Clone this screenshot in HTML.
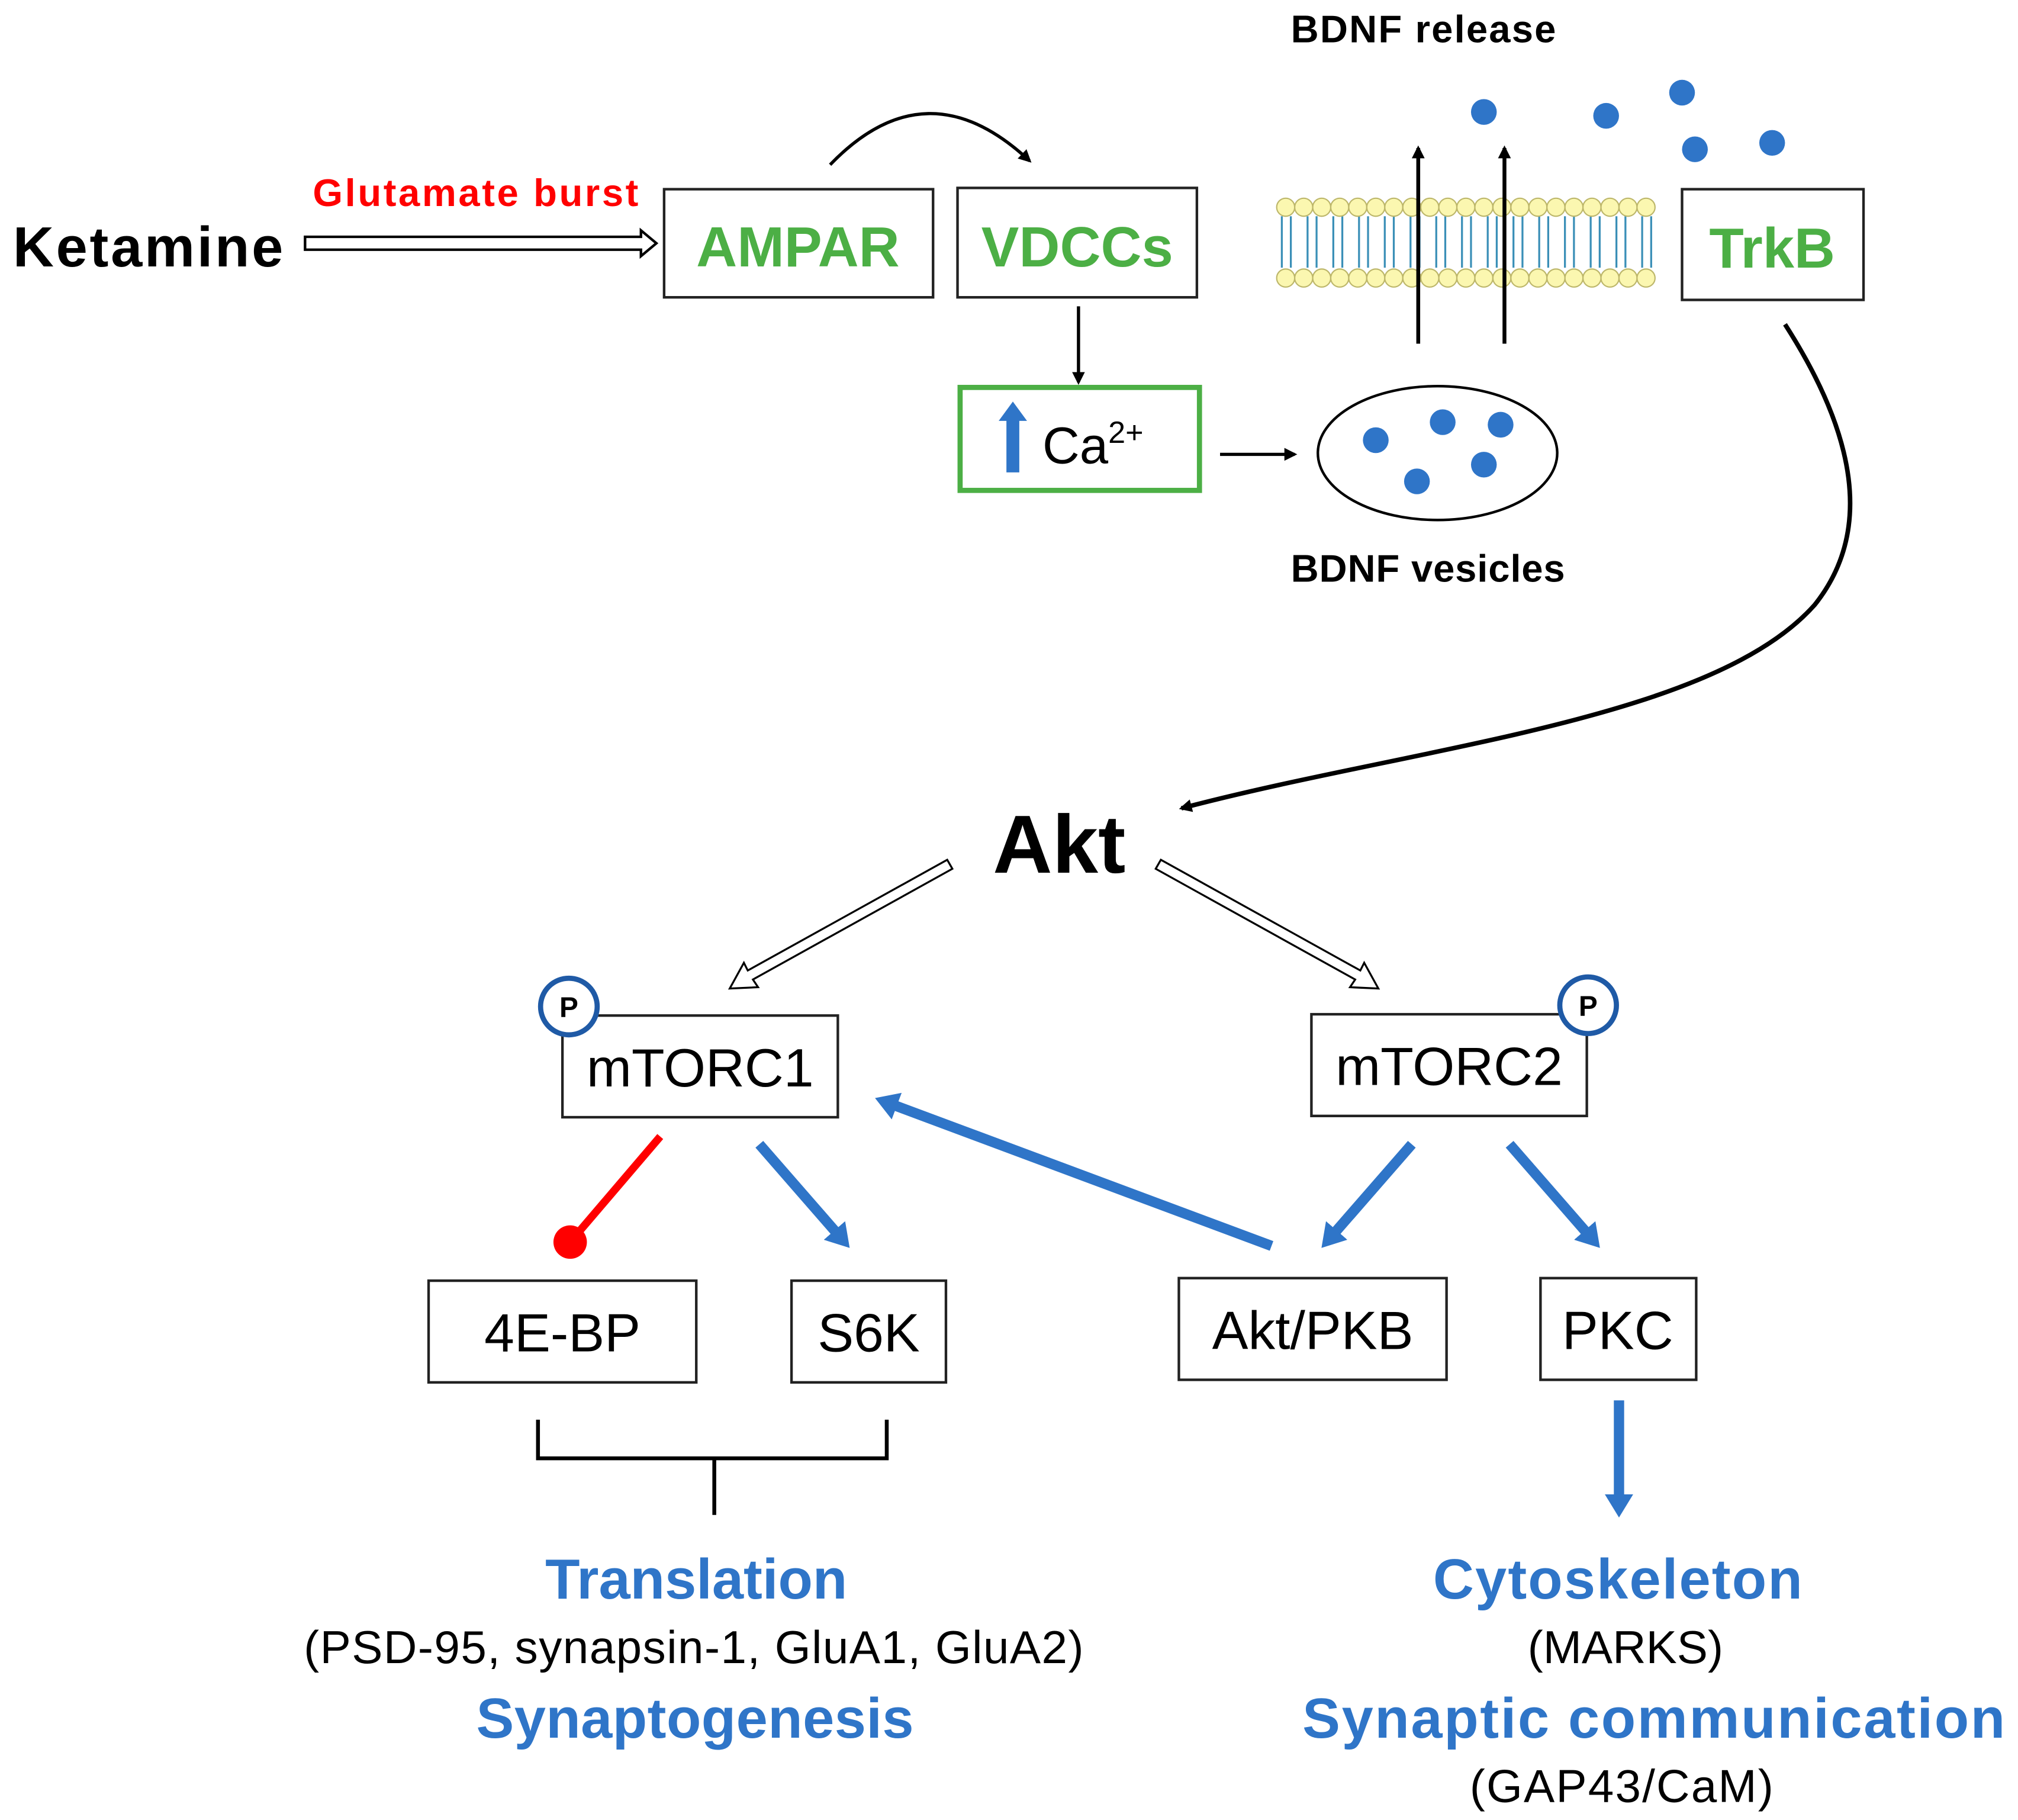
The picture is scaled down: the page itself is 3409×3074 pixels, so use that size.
<!DOCTYPE html>
<html><head><meta charset="utf-8"><style>html,body{margin:0;padding:0;background:#fff}svg{display:block}text{font-family:"Liberation Sans",sans-serif}</style></head><body>
<svg width="3409" height="3074" viewBox="0 0 1568 1414" xmlns="http://www.w3.org/2000/svg">
<defs>
<marker id="ak" markerWidth="10" markerHeight="10" refX="8" refY="5" orient="auto" markerUnits="userSpaceOnUse"><path d="M0,0 L10,5 L0,10 z" fill="#000"/></marker>
<marker id="ab" markerWidth="18" markerHeight="22" refX="4" refY="11" orient="auto" markerUnits="userSpaceOnUse"><path d="M0,0 L18,11 L0,22 z" fill="#2f75c8"/></marker>
</defs>
<text x="10" y="207" font-size="44" font-weight="bold" textLength="210">Ketamine</text>
<text x="243" y="160" font-size="30" font-weight="bold" fill="#f00" textLength="253">Glutamate burst</text>
<path d="M237,184 L498,184 L498,179 L510,189 L498,199 L498,194 L237,194 z" fill="#fff" stroke="#000" stroke-width="2"/>
<g fill="#fff" stroke="#222" stroke-width="2">
<rect x="516" y="147" width="209" height="84"/><rect x="744" y="146" width="186" height="85"/>
<rect x="1307" y="147" width="141" height="86"/>
<rect x="437" y="789" width="214" height="79"/><rect x="1019" y="788" width="214" height="79"/>
<rect x="333" y="995" width="208" height="79"/><rect x="615" y="995" width="120" height="79"/>
<rect x="916" y="993" width="208" height="79"/><rect x="1197" y="993" width="121" height="79"/>
</g>
<g font-size="44" font-weight="bold" fill="#4caf45" text-anchor="middle">
<text x="620" y="207">AMPAR</text><text x="837" y="207">VDCCs</text><text x="1377" y="208">TrkB</text></g>
<path d="M645,128 Q720,50 800,125" fill="none" stroke="#000" stroke-width="2.5" marker-end="url(#ak)"/>
<line x1="838" y1="238" x2="838" y2="297" stroke="#000" stroke-width="2.5" marker-end="url(#ak)"/>
<rect x="746" y="301" width="186" height="80" fill="#fff" stroke="#4caf45" stroke-width="4"/>
<path d="M782,367 L782,327 L776,327 L787,312 L798,327 L792,327 L792,367 z" fill="#2f75c8"/>
<text x="810" y="360" font-size="40">Ca<tspan font-size="24" dy="-16">2+</tspan></text>
<line x1="948" y1="353" x2="1006" y2="353" stroke="#000" stroke-width="2.5" marker-end="url(#ak)"/>
<ellipse cx="1117" cy="352" rx="93" ry="52" fill="#fff" stroke="#000" stroke-width="2"/>
<g fill="#2f75c8"><circle cx="1069" cy="342" r="10"/><circle cx="1121" cy="328" r="10"/><circle cx="1166" cy="330" r="10"/><circle cx="1101" cy="374" r="10"/><circle cx="1153" cy="361" r="10"/>
<circle cx="1153" cy="87" r="10"/><circle cx="1248" cy="90" r="10"/><circle cx="1307" cy="72" r="10"/><circle cx="1317" cy="116" r="10"/><circle cx="1377" cy="111" r="10"/></g>
<text x="1003" y="452" font-size="30" font-weight="bold" textLength="213">BDNF vesicles</text>
<text x="1003" y="33" font-size="30" font-weight="bold" textLength="206">BDNF release</text>
<g>
<g stroke="#3a8fb7" stroke-width="1.5" fill="none">
<path d="M996,168 v40 M1003,168 v40 M1016,168 v40 M1023,168 v40 M1036,168 v40 M1043,168 v40 M1056,168 v40 M1063,168 v40 M1076,168 v40 M1083,168 v40 M1096,168 v40 M1103,168 v40 M1116,168 v40 M1123,168 v40 M1136,168 v40 M1143,168 v40 M1156,168 v40 M1163,168 v40 M1176,168 v40 M1183,168 v40 M1196,168 v40 M1203,168 v40 M1216,168 v40 M1223,168 v40 M1236,168 v40 M1243,168 v40 M1256,168 v40 M1263,168 v40 M1276,168 v40 M1283,168 v40"/>
</g>
<g fill="#fbf7b0" stroke="#bdb76b" stroke-width="1">
<circle cx="999" cy="161" r="7"/><circle cx="1013" cy="161" r="7"/><circle cx="1027" cy="161" r="7"/><circle cx="1041" cy="161" r="7"/><circle cx="1055" cy="161" r="7"/><circle cx="1069" cy="161" r="7"/><circle cx="1083" cy="161" r="7"/><circle cx="1097" cy="161" r="7"/><circle cx="1111" cy="161" r="7"/><circle cx="1125" cy="161" r="7"/><circle cx="1139" cy="161" r="7"/><circle cx="1153" cy="161" r="7"/><circle cx="1167" cy="161" r="7"/><circle cx="1181" cy="161" r="7"/><circle cx="1195" cy="161" r="7"/><circle cx="1209" cy="161" r="7"/><circle cx="1223" cy="161" r="7"/><circle cx="1237" cy="161" r="7"/><circle cx="1251" cy="161" r="7"/><circle cx="1265" cy="161" r="7"/><circle cx="1279" cy="161" r="7"/>
<circle cx="999" cy="216" r="7"/><circle cx="1013" cy="216" r="7"/><circle cx="1027" cy="216" r="7"/><circle cx="1041" cy="216" r="7"/><circle cx="1055" cy="216" r="7"/><circle cx="1069" cy="216" r="7"/><circle cx="1083" cy="216" r="7"/><circle cx="1097" cy="216" r="7"/><circle cx="1111" cy="216" r="7"/><circle cx="1125" cy="216" r="7"/><circle cx="1139" cy="216" r="7"/><circle cx="1153" cy="216" r="7"/><circle cx="1167" cy="216" r="7"/><circle cx="1181" cy="216" r="7"/><circle cx="1195" cy="216" r="7"/><circle cx="1209" cy="216" r="7"/><circle cx="1223" cy="216" r="7"/><circle cx="1237" cy="216" r="7"/><circle cx="1251" cy="216" r="7"/><circle cx="1265" cy="216" r="7"/><circle cx="1279" cy="216" r="7"/>
</g></g>
<line x1="1102" y1="267" x2="1102" y2="115" stroke="#000" stroke-width="3" marker-end="url(#ak)"/>
<line x1="1169" y1="267" x2="1169" y2="115" stroke="#000" stroke-width="3" marker-end="url(#ak)"/>
<path d="M1387,252 C1450,350 1450,420 1410,470 C1330,560 1100,580 918,628" fill="none" stroke="#000" stroke-width="3.5" marker-end="url(#ak)"/>
<text x="823" y="678" font-size="64" font-weight="bold" text-anchor="middle">Akt</text>
<path d="M736,668 L581,754 L578,748 L567,768 L589,767 L585,761 L740,675 z" fill="#fff" stroke="#000" stroke-width="1.5"/>
<path d="M902,668 L1057,754 L1060,748 L1071,768 L1049,767 L1053,761 L898,675 z" fill="#fff" stroke="#000" stroke-width="1.5"/>
<g font-size="42" text-anchor="middle">
<text x="544" y="844">mTORC1</text><text x="1126" y="843">mTORC2</text>
<text x="437" y="1050">4E-BP</text><text x="675" y="1050">S6K</text>
<text x="1020" y="1048">Akt/PKB</text><text x="1257" y="1048">PKC</text></g>
<g fill="#fff" stroke="#1f5aa6" stroke-width="4"><circle cx="442" cy="782" r="22"/><circle cx="1234" cy="781" r="22"/></g>
<g font-size="22" font-weight="bold" text-anchor="middle"><text x="442" y="790">P</text><text x="1234" y="789">P</text></g>
<line x1="513" y1="883" x2="443" y2="965" stroke="#f00" stroke-width="6"/><circle cx="443" cy="965" r="13" fill="#f00"/>
<g stroke="#2f75c8" stroke-width="8" marker-end="url(#ab)">
<line x1="590" y1="889" x2="651" y2="959"/><line x1="1097" y1="889" x2="1036" y2="959"/>
<line x1="1173" y1="889" x2="1234" y2="959"/><line x1="988" y1="968" x2="693" y2="858"/>
<line x1="1258" y1="1088" x2="1258" y2="1165"/></g>
<path d="M418,1103 L418,1133 L689,1133 L689,1103 M555,1133 L555,1177" fill="none" stroke="#000" stroke-width="3"/>
<g text-anchor="middle">
<text x="541" y="1242" font-size="44" font-weight="bold" fill="#2f75c8">Translation</text>
<text x="539" y="1292" font-size="36" textLength="606">(PSD-95, synapsin-1, GluA1, GluA2)</text>
<text x="540" y="1350" font-size="44" font-weight="bold" fill="#2f75c8" textLength="340">Synaptogenesis</text>
<text x="1257" y="1242" font-size="44" font-weight="bold" fill="#2f75c8" textLength="287">Cytoskeleton</text>
<text x="1263" y="1292" font-size="36">(MARKS)</text>
<text x="1285" y="1350" font-size="44" font-weight="bold" fill="#2f75c8" textLength="546">Synaptic communication</text>
<text x="1260" y="1400" font-size="36" textLength="236">(GAP43/CaM)</text></g>
</svg>
</body></html>
